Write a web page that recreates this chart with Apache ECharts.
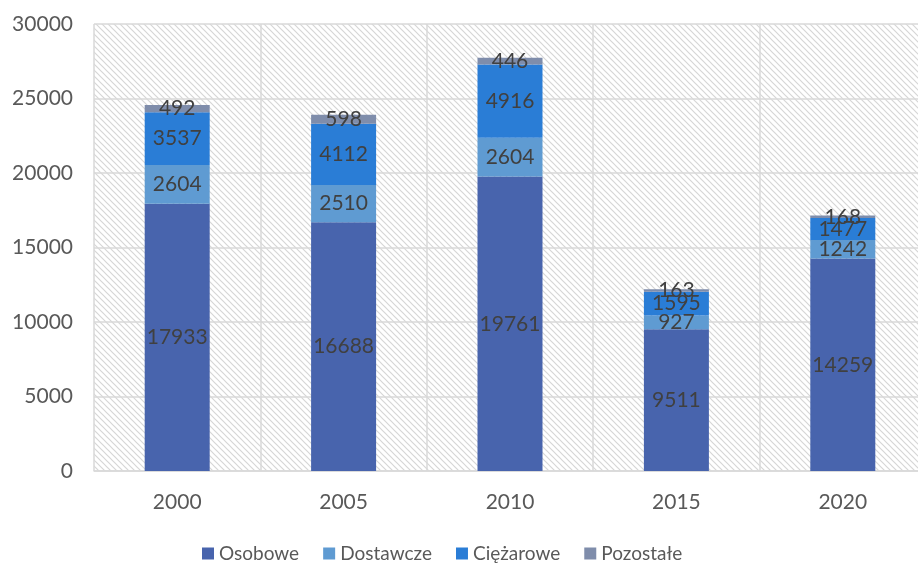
<!DOCTYPE html>
<html><head><meta charset="utf-8">
<script src="https://cdn.jsdelivr.net/npm/echarts@6/dist/echarts.min.js"></script>
<style>html,body{margin:0;padding:0;background:#fff}#c{width:918px;height:568px}</style>
</head><body><div id="c"></div>
<script>
const years = ['2000','2005','2010','2015','2020'];
const osobowe = [17933, 16688, 19761, 9511, 14259];
const dostawcze = [2604, 2510, 2604, 927, 1242];
const ciezarowe = [3537, 4112, 4916, 1595, 1477];
const pozostale = [492, 598, 446, 163, 168];
const seriesNames = ['Osobowe','Dostawcze','Ciężarowe','Pozostałe'];
const colors = ['#4864ad','#5f9bd2','#2a7dd6','#7f8dab'];

const pc = document.createElement('canvas');
pc.width = 6; pc.height = 6;
const g = pc.getContext('2d');
g.fillStyle = '#ffffff'; g.fillRect(0,0,6,6);
g.strokeStyle = '#d6d6d6'; g.lineWidth = 1.2;
g.beginPath();
g.moveTo(-1,-1); g.lineTo(7,7);
g.moveTo(-4,2); g.lineTo(4,10);
g.moveTo(2,-4); g.lineTo(10,4);
g.stroke();

const font = 'Lato, "Open Sans", sans-serif';
const chart = echarts.init(document.getElementById('c'));
const data = [osobowe, dostawcze, ciezarowe, pozostale];
chart.setOption({
  animation: false,
  color: colors,
  textStyle: {fontFamily: font},
  grid: {left: 94, width: 832, top: 24, bottom: 97, show: true, outerBoundsMode: 'none', containLabel: false,
    backgroundColor: {image: pc, repeat: 'repeat'}, borderWidth: 0},
  legend: {bottom: 0, left: 197, itemWidth: 12, itemHeight: 12, itemGap: 24, icon: 'rect',
    textStyle: {fontSize: 19, color: '#595959', fontFamily: font},
    data: seriesNames},
  xAxis: {type: 'category', data: years,
    axisLine: {lineStyle: {color: '#d9d9d9', width: 1.5}},
    axisTick: {show: false},
    splitLine: {show: true, lineStyle: {color: '#d9d9d9', width: 1.5}},
    axisLabel: {fontSize: 21, color: '#595959', margin: 21, fontFamily: font}},
  yAxis: {type: 'value', min: 0, max: 30000, interval: 5000,
    axisLine: {show: false}, axisTick: {show: false},
    splitLine: {lineStyle: {color: '#d9d9d9', width: 1.5}},
    axisLabel: {fontSize: 21, color: '#595959', margin: 21, fontFamily: font,
      formatter: v => String(v)}},
  series: seriesNames.map((n, i) => ({
    name: n, type: 'bar', stack: 'a', data: data[i], barWidth: 65,
    label: {show: true, position: 'inside', fontSize: 21, color: '#404040', fontFamily: font}
  }))
});
</script></body></html>
